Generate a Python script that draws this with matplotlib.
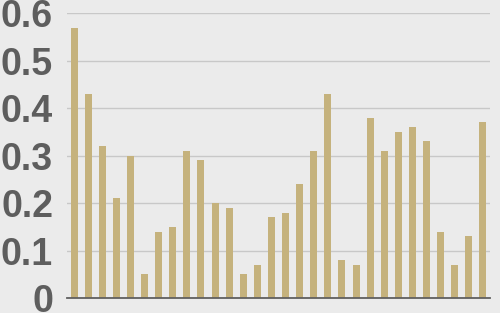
import matplotlib.pyplot as plt

valores = [0.57, 0.43, 0.32, 0.21, 0.30, 0.05, 0.14, 0.15, 0.31, 0.29,
           0.20, 0.19, 0.05, 0.07, 0.17, 0.18, 0.24, 0.31, 0.43, 0.08,
           0.07, 0.38, 0.31, 0.35, 0.36, 0.33, 0.14, 0.07, 0.13, 0.37]
ticks_y = [0, 0.1, 0.2, 0.3, 0.4, 0.5, 0.6]
etiquetas_y = ["0", "0.1", "0.2", "0.3", "0.4", "0.5", "0.6"]

fondo = "#ebebeb"
fig = plt.figure(figsize=(5, 3.13), dpi=100, facecolor=fondo)
ax = fig.add_axes([0.134, 0.048, 0.846, 0.9095], facecolor=fondo)

# barras
ax.bar(range(len(valores)), valores, width=0.5, color="#c5b27d", zorder=3)

ax.set_xlim(-0.5, len(valores) - 0.5)
ax.set_ylim(0, 0.6)
ax.set_yticks(ticks_y)
ax.set_yticklabels(etiquetas_y, fontfamily="Liberation Sans", fontsize=27,
                   fontweight="bold", color="#5e5e5e")
ax.set_xticks([])
ax.tick_params(axis="y", length=0, pad=10)

ax.grid(axis="y", color="#c8c8c8", linewidth=1, zorder=0)
for lado in ["top", "right", "left"]:
    ax.spines[lado].set_visible(False)
ax.spines["bottom"].set_color("#606060")
ax.spines["bottom"].set_linewidth(1.3)
ax.spines["bottom"].set_zorder(4)

plt.savefig("out.png", dpi=100, facecolor=fondo)
